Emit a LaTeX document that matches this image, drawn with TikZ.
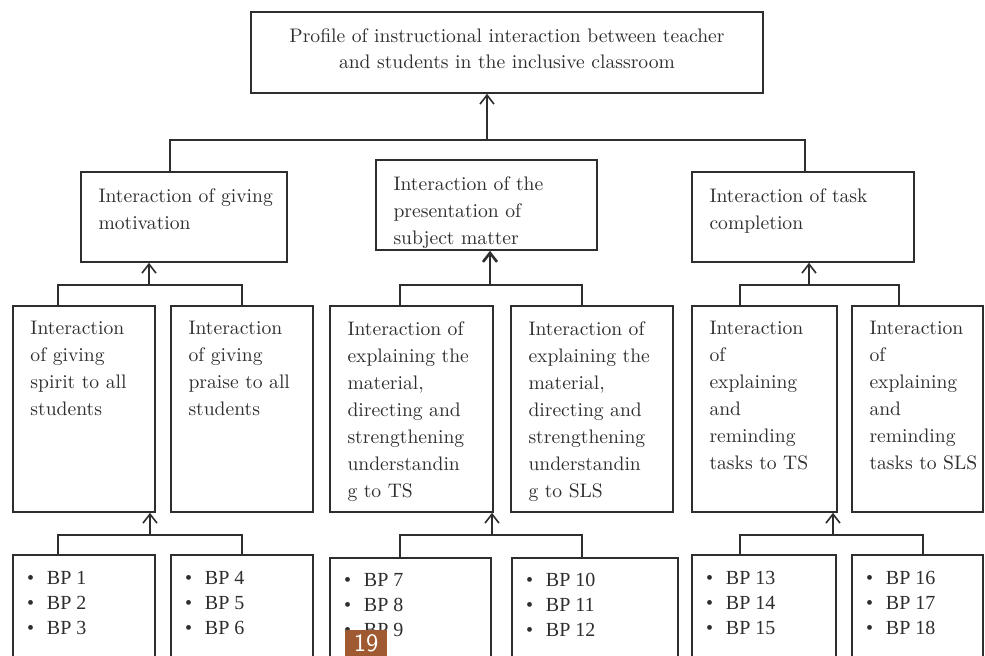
\documentclass[tikz,border=0pt]{standalone}
\usepackage{fontspec}
\newfontfamily\bpfont{Liberation Serif}
\usetikzlibrary{arrows.meta,fit}
\definecolor{badgebrown}{RGB}{160,90,50}

\newcommand{\bpline}[1]{\makebox[10pt][l]{\textbullet}BP #1}

\begin{document}
\begin{tikzpicture}[x=0.5pt,y=-0.5pt,color=black!82,line width=0.8pt,
    box/.style={draw,inner sep=0pt},
    lbl/.style={anchor=north west,align=left,inner sep=0pt,font=\fontsize{9.8}{13.5}\selectfont},
    bp/.style={anchor=north west,align=left,inner sep=0pt,font=\bpfont\fontsize{10}{12.5}\selectfont},
    up/.style={-{Straight Barb[length=4.5pt,width=7pt]}},
    heavy/.style={line width=1.3pt}]
            \useasboundingbox (0,0) rectangle (985,656);
            \clip (0,0) rectangle (985,656);

            % top
            \node[box,fit={(251,12) (763,93)}] (profile) {};
            \node[inner sep=0pt,align=center,font=\fontsize{9.8}{13}\selectfont] (profile-t) at (507,49)
                {Profile of instructional interaction between teacher\\and students in the inclusive classroom};

            % second row
            \node[box,fit={(81,172) (287,262)}] (motiv) {};
            \node[box,fit={(376,160) (597,250)}] (present) {};
            \node[box,fit={(692,172) (914,262)}] (task) {};
            \node[lbl] (motiv-t) at ([shift={(17.5,16.5)}]motiv.north west) {Interaction of giving\\motivation};
            \node[lbl] (present-t) at ([shift={(17.5,16.5)}]present.north west) {Interaction of the\\presentation of\\subject matter};
            \node[lbl] (task-t) at ([shift={(17.5,16.5)}]task.north west) {Interaction of task\\completion};

            % third row
            \node[box,fit={(13,306) (155,512)}] (spirit) {};
            \node[box,fit={(171,306) (313,512)}] (praise) {};
            \node[box,fit={(330,306) (493,512)}] (explts) {};
            \node[box,fit={(511,306) (673,512)}] (explsls) {};
            \node[box,fit={(692,306) (837,512)}] (remts) {};
            \node[box,fit={(852,306) (983,512)}] (remsls) {};
            \node[lbl] (spirit-t) at ([shift={(17.5,15.5)}]spirit.north west) {Interaction\\of giving\\spirit to all\\students};
            \node[lbl] (praise-t) at ([shift={(17.5,15.5)}]praise.north west) {Interaction\\of giving\\praise to all\\students};
            \node[lbl] (explts-t) at ([shift={(17.5,15.5)}]explts.north west) {Interaction of\\explaining the\\material,\\directing and\\strengthening\\understandin\\g to TS};
            \node[lbl] (explsls-t) at ([shift={(17.5,15.5)}]explsls.north west) {Interaction of\\explaining the\\material,\\directing and\\strengthening\\understandin\\g to SLS};
            \node[lbl] (remts-t) at ([shift={(17.5,15.5)}]remts.north west) {Interaction\\of\\explaining\\and\\reminding\\tasks to TS};
            \node[lbl] (remsls-t) at ([shift={(17.5,15.5)}]remsls.north west) {Interaction\\of\\explaining\\and\\reminding\\tasks to SLS};

            % bottom row
            \node[box,fit={(13,555) (155,700)}] (bpa) {};
            \node[box,fit={(171,555) (313,700)}] (bpb) {};
            \node[box,fit={(330,558) (491,700)}] (bpc) {};
            \node[box,fit={(512,558) (678,700)}] (bpd) {};
            \node[box,fit={(692,555) (836,700)}] (bpe) {};
            \node[box,fit={(852,555) (983,700)}] (bpf) {};
            \node[bp] (bpa-t) at ([shift={(14,16)}]bpa.north west) {\bpline{1}\\\bpline{2}\\\bpline{3}};
            \node[bp] (bpb-t) at ([shift={(14,16)}]bpb.north west) {\bpline{4}\\\bpline{5}\\\bpline{6}};
            \node[bp] (bpc-t) at ([shift={(14,15)}]bpc.north west) {\bpline{7}\\\bpline{8}\\\bpline{9}};
            \node[bp] (bpd-t) at ([shift={(14,15)}]bpd.north west) {\bpline{10}\\\bpline{11}\\\bpline{12}};
            \node[bp] (bpe-t) at ([shift={(14,16)}]bpe.north west) {\bpline{13}\\\bpline{14}\\\bpline{15}};
            \node[bp] (bpf-t) at ([shift={(14,16)}]bpf.north west) {\bpline{16}\\\bpline{17}\\\bpline{18}};

            % connectors
            \coordinate (jtop) at (487,140);
            \draw ([shift={(-14,0)}]motiv.north) |- (jtop) -| ([shift={(2,0)}]task.north);
            \draw[up] (jtop) -- (jtop |- profile.south);

            \coordinate (jmot) at (149,285);
            \coordinate (jpres) at (490,285);
            \coordinate (jtask) at (809,285);
            \draw[heavy] ([shift={(-26,0)}]spirit.north) |- (jmot) -| (praise.north);
            \draw[up] (jmot) -- (jmot |- motiv.south);
            \draw[heavy] ([shift={(-11.5,0)}]explts.north) |- (jpres) -| ([shift={(-10,0)}]explsls.north);
            \draw[up,heavy] (jpres) -- (jpres |- present.south);
            \draw ([shift={(-24.5,0)}]remts.north) |- (jtask) -| ([shift={(-18.5,0)}]remsls.north);
            \draw[up] (jtask) -- (jtask |- task.south);

            \coordinate (jspirit) at (150,535);
            \coordinate (jexpl) at (492,535);
            \coordinate (jrem) at (833,535);
            \draw ([shift={(-26,0)}]bpa.north) |- (jspirit) -| (bpb.north);
            \draw[up] (jspirit) -- (jspirit |- spirit.south);
            \draw ([shift={(-10.5,0)}]bpc.north) |- (jexpl) -| ([shift={(-13,0)}]bpd.north);
            \draw[up] (jexpl) -- (jexpl |- explts.south);
            \draw ([shift={(-24,0)}]bpe.north) |- (jrem) -| ([shift={(5.5,0)}]bpf.north);
            \draw[up] (jrem) -- (jrem |- remts.south);

            \node[fill=badgebrown,text=white,inner sep=0pt,minimum width=21pt,minimum height=13pt,
                font=\sffamily\fontsize{12.5}{12.5}\selectfont] (badge) at (366,643) {19};
\end{tikzpicture}
\end{document}
